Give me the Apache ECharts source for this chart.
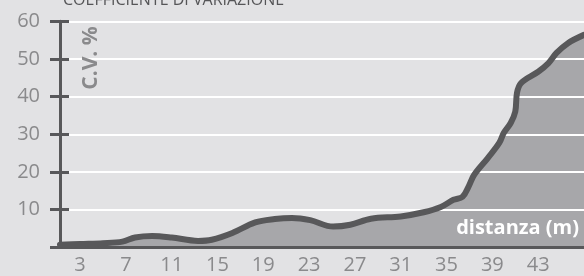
<!DOCTYPE html>
<html><head><meta charset="utf-8">
<script src="https://cdn.jsdelivr.net/npm/echarts@6/dist/echarts.min.js"></script>
<style>html,body{margin:0;padding:0;background:#e2e2e4}#c{width:584px;height:276px}</style>
</head><body><div id="c"></div>
<script>
const distance = [1.25, 3, 5, 6.7, 7.8, 9.3, 11.0, 13.3, 14.5, 16.3, 18.3, 20.0, 21.5, 23.1, 25.1, 26.6, 28.4, 31.0, 33.0, 34.5, 35.6, 36.4, 36.9, 37.4, 38.6, 39.6, 40.0, 40.6, 41.0, 41.15, 41.5, 43.0, 43.9, 44.6, 45.6, 47.0];
const cv =       [0.7,  0.9, 1.1, 1.5, 2.6, 3.0, 2.6, 1.7, 2.0, 3.8, 6.6, 7.5, 7.8, 7.2, 5.5, 6.0, 7.6, 8.2, 9.3, 10.7, 12.6, 13.4, 16.0, 19.2, 23.7, 27.7, 30.4, 33.0, 36.0, 41.0, 43.6, 46.6, 48.9, 51.6, 54.2, 56.4];
const xTicks = [3, 7, 11, 15, 19, 23, 27, 31, 35, 39, 43];
const yTicks = [0, 10, 20, 30, 40, 50, 60];
const title = 'COEFFICIENTE DI VARIAZIONE';
const yName = 'C.V. %';
const xName = 'distanza (m)';

const pts = distance.map((d, i) => [d, cv[i]]);
const labelFont = "'Open Sans',sans-serif";
const chart = echarts.init(document.getElementById('c'), null, {renderer: 'canvas'});
chart.setOption({
  backgroundColor: '#e2e2e4',
  animation: false,
  grid: {left: 60, right: 0, top: 21.3, bottom: 28.7},
  xAxis: {
    type: 'value', min: 1.25, max: 47,
    axisLine: {show: true, lineStyle: {color: '#58585a', width: 3}},
    axisTick: {show: false},
    splitLine: {show: false},
    axisLabel: {customValues: xTicks, color: '#8a8a8c', fontSize: 20, fontFamily: labelFont, margin: 8}
  },
  yAxis: [{
    type: 'value', min: 0, max: 60, interval: 10,
    axisLine: {show: true, lineStyle: {color: '#58585a', width: 3}},
    axisTick: {show: true, length: 10, lineStyle: {color: '#58585a', width: 3}},
    splitLine: {show: true, lineStyle: {color: '#ffffff', width: 2}},
    axisLabel: {color: '#8a8a8c', fontSize: 20, fontFamily: labelFont, margin: 20,
      formatter: v => v === 0 ? '' : String(v)}
  }, {
    type: 'value', min: 0, max: 60, interval: 10, position: 'left',
    axisLine: {show: false},
    axisTick: {show: true, inside: true, length: 9, lineStyle: {color: '#58585a', width: 3}},
    splitLine: {show: false},
    axisLabel: {show: false}
  }],
  series: [{
    type: 'line', data: pts, smooth: 0.35, symbol: 'none', z: -1,
    lineStyle: {width: 0, opacity: 0},
    areaStyle: {color: '#a7a7aa', opacity: 1}
  }, {
    type: 'line', data: pts, smooth: 0.35, symbol: 'none', z: 5,
    lineStyle: {width: 6, color: '#58585a', cap: 'round', join: 'round'}
  }],
  graphic: [
    {type: 'text', x: 63, y: 8, z: 10,
      style: {text: title, fill: '#555557', font: "16px 'Open Sans',sans-serif", verticalAlign: 'bottom'}},
    {type: 'text', x: 91, y: 58, rotation: Math.PI / 2, z: 10,
      style: {text: yName, fill: '#8a8a8c', font: "bold 21px 'Open Sans',sans-serif", align: 'center', verticalAlign: 'middle'}},
    {type: 'text', x: 579, y: 228, z: 10,
      style: {text: xName, fill: '#ffffff', font: "bold 20px 'Open Sans',sans-serif", align: 'right', verticalAlign: 'middle'}}
  ]
});
</script></body></html>
